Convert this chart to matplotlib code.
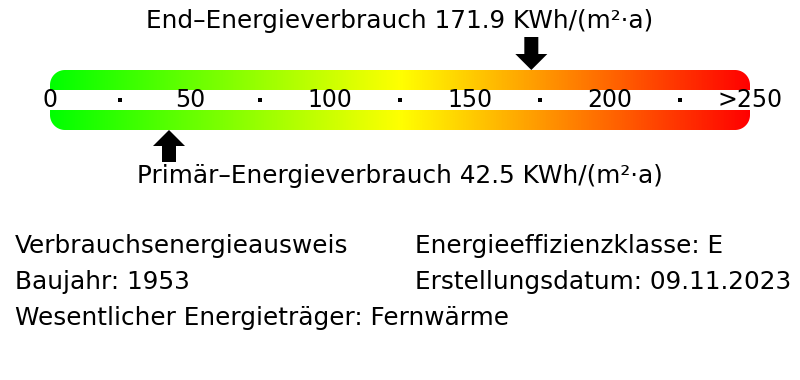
import numpy as np
import matplotlib
matplotlib.use("Agg")
import matplotlib.pyplot as plt
from matplotlib.patches import Polygon, Rectangle, FancyArrow
from matplotlib.colors import LinearSegmentedColormap

# ---- data ----
scale_min = 0
scale_max = 250
tick_values = [0, 50, 100, 150, 200, 250]
tick_labels = ["0", "50", "100", "150", "200", ">250"]
dot_values = [25, 75, 125, 175, 225]
end_energy = 171.9
primary_energy = 42.5
unit = "KWh/(m²·a)"
end_label = "End–Energieverbrauch"
primary_label = "Primär–Energieverbrauch"
info_left = ["Verbrauchsenergieausweis", "Baujahr: 1953",
             "Wesentlicher Energieträger: Fernwärme"]
info_right = ["Energieeffizienzklasse: E", "Erstellungsdatum: 09.11.2023"]

# ---- layout (pixels) ----
W, H = 800, 380
bar_left_px, bar_right_px = 50, 750
px_per_unit = (bar_right_px - bar_left_px) / (scale_max - scale_min)

plt.rcParams['font.family'] = ['DejaVu Sans']
fig = plt.figure(figsize=(W / 100, H / 100), dpi=100)
ax = fig.add_axes([0, 0, 1, 1])
ax.set_xlim(scale_min - bar_left_px / px_per_unit,
            scale_min + (W - bar_left_px) / px_per_unit)
ax.set_ylim(H, 0)
ax.axis('off')

bar_top, bar_bot = 70, 130
band_top, band_bot = 90, 110
radius_px = 15


def rounded_rect(x0, x1, y0, y1, rx, ry, n=24):
    pts = []
    corners = [(x1 - rx, y0 + ry, -np.pi / 2, 0),      # top-right
               (x1 - rx, y1 - ry, 0, np.pi / 2),       # bottom-right
               (x0 + rx, y1 - ry, np.pi / 2, np.pi),   # bottom-left
               (x0 + rx, y0 + ry, np.pi, 1.5 * np.pi)]  # top-left
    for cx, cy, a0, a1 in corners:
        t = np.linspace(a0, a1, n)
        pts.extend(zip(cx + rx * np.cos(t), cy + ry * np.sin(t)))
    return np.array(pts)


cmap = LinearSegmentedColormap.from_list(
    "energy", [(0.0, "#00ff00"), (0.5, "#ffff00"), (1.0, "#ff0000")])
grad = np.linspace(0, 1, 512)[None, :]

clip = Polygon(rounded_rect(scale_min, scale_max, bar_top, bar_bot,
                            radius_px / px_per_unit, radius_px),
               closed=True, facecolor='none', edgecolor='none')
ax.add_patch(clip)
im = ax.imshow(grad, cmap=cmap, aspect='auto',
               extent=(scale_min, scale_max, bar_bot, bar_top),
               interpolation='bilinear')
im.set_clip_path(clip)
band = Rectangle((scale_min, band_top), scale_max - scale_min,
                 band_bot - band_top, facecolor='white', edgecolor='none')
ax.add_patch(band)
band.set_clip_path(clip)

fs_tick = 17
fs = 17.8
for v, lab in zip(tick_values, tick_labels):
    ax.text(v, 100, lab, ha='center', va='center', fontsize=fs_tick, color='black')
ax.scatter(dot_values, [100] * len(dot_values), marker='s', s=5,
           color='black', linewidths=0)

# arrows
shaft_w = 14 / px_per_unit
head_w = 32 / px_per_unit
ax.add_patch(FancyArrow(end_energy, 37, 0, bar_top - 37, width=shaft_w,
                        head_width=head_w, head_length=16,
                        length_includes_head=True, color='black', lw=0))
ax.add_patch(FancyArrow(primary_energy, 162, 0, bar_bot - 162, width=shaft_w,
                        head_width=head_w, head_length=16,
                        length_includes_head=True, color='black', lw=0))

mid = (scale_min + scale_max) / 2
ax.text(mid, 21, f"{end_label} {end_energy:.1f} {unit}", ha='center',
        va='center', fontsize=fs)
ax.text(mid, 176, f"{primary_label} {primary_energy:.1f} {unit}", ha='center',
        va='center', fontsize=fs)

x_left = scale_min + (15 - bar_left_px) / px_per_unit
x_right = scale_min + (415 - bar_left_px) / px_per_unit
rows = [246, 282, 318]
for y, t in zip(rows, info_left):
    ax.text(x_left, y, t, ha='left', va='center', fontsize=fs)
for y, t in zip(rows, info_right):
    ax.text(x_right, y, t, ha='left', va='center', fontsize=fs)

fig.savefig("out.png", dpi=100, facecolor='white')
